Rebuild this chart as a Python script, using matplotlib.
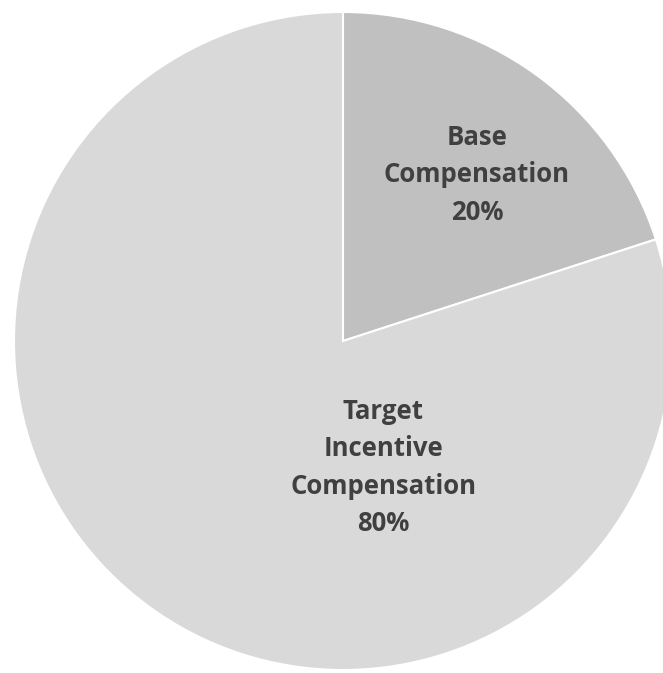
import matplotlib.pyplot as plt

labels = ["Base\nCompensation\n20%", "Target\nIncentive\nCompensation\n80%"]
values = [20, 80]
colors = ["#c0c0c0", "#d9d9d9"]
label_pos = [(0.407, 0.505), (0.122, -0.384)]

fig = plt.figure(figsize=(6.63, 6.73), dpi=100)
ax = fig.add_axes([0, 0, 1, 1])

ax.pie(values, colors=colors, startangle=90, counterclock=False, radius=1,
       wedgeprops=dict(edgecolor="white", linewidth=1.5))

for text, (x, y) in zip(labels, label_pos):
    ax.text(x, y, text, ha="center", va="center", fontsize=18.5, fontweight="bold",
            family="Open Sans", color="#404040", linespacing=1.5)

# pixel mapping: centre at (343, 341), radius 329 px
r = 329.0
ax.set_aspect("auto")
ax.set_xlim(-343 / r, (663 - 343) / r)
ax.set_ylim(-(673 - 341) / r, 341 / r)
ax.axis("off")

fig.savefig("out.png", dpi=100, facecolor="white")
